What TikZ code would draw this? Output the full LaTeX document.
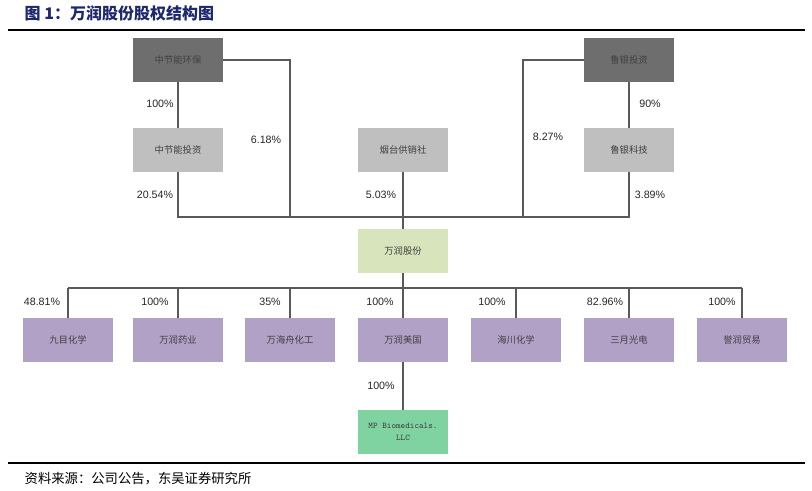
\documentclass[tikz,border=0pt]{standalone}
\usepackage{fontspec}
\setmainfont{Liberation Sans}
\newfontfamily\cjk{Noto Sans CJK SC}
\begin{document}
\begin{tikzpicture}[x=0.75pt,y=-0.75pt,
 box/.style={draw=none,minimum width=67.5pt,minimum height=33pt,inner sep=0pt,font=\cjk\fontsize{7}{8}\selectfont,text=black!75},
 dark/.style={box,fill=black!57},
 light/.style={box,fill=black!25},
 mid/.style={box,fill={rgb,255:red,216;green,228;blue,188}},
 sub/.style={box,fill={rgb,255:red,178;green,161;blue,199}},
 grn/.style={box,fill={rgb,255:red,127;green,211;blue,160},font=\ttfamily\fontsize{6.5}{9}\selectfont,align=center},
 ln/.style={draw=black!65,line width=0.9pt},
 pct/.style={font=\fontsize{8}{9}\selectfont,text=black!85,inner sep=1pt}]
\useasboundingbox (0,0) rectangle (812,491);
\node[anchor=west,font=\cjk\bfseries\fontsize{12}{14}\selectfont,text={rgb,255:red,30;green,40;blue,110}] (title) at (20,13) {图 1：万润股份股权结构图};
\coordinate (l1a) at (8,30); \coordinate (l1b) at (805,30);
\draw[line width=0.8pt] (l1a) -- (l1b);
\coordinate (l2a) at (8,463); \coordinate (l2b) at (805,463);
\draw[line width=0.8pt] (l2a) -- (l2b);
\node[anchor=west,font=\cjk\fontsize{10}{12}\selectfont] (src) at (20,479) {资料来源：公司公告，东吴证券研究所};
\node[dark] (a) at (178,60) {中节能环保};
\node[light] (b) at (178,150) {中节能投资};
\node[light] (c) at (403,150) {烟台供销社};
\node[dark] (d) at (629,60) {鲁银投资};
\node[light] (e) at (629,150) {鲁银科技};
\node[mid] (w) at (403,251) {万润股份};
\coordinate (j1) at (178,217); \coordinate (j2) at (290,217);
\coordinate (j3) at (403,217); \coordinate (j4) at (523,217); \coordinate (j5) at (629,217);
\coordinate (k1) at (290,60); \coordinate (k2) at (523,60);
\draw[ln] (a) -- (b); \draw[ln] (d) -- (e);
\draw[ln] (b) -- (j1) -- (j5) -- (e);
\draw[ln] (a.east) -- (k1) -- (j2);
\draw[ln] (d.west) -- (k2) -- (j4);
\draw[ln] (c) -- (w);
\node[pct] at (160,104) {100\%};
\node[pct] at (266,140) {6.18\%};
\node[pct] at (155,195) {20.54\%};
\node[pct] at (381,195) {5.03\%};
\node[pct] at (548,137) {8.27\%};
\node[pct] at (650,104) {90\%};
\node[pct] at (650,195) {3.89\%};
\coordinate (bus) at (403,288);
\foreach \n/\x/\t/\p/\px in {s1/68/九目化学/48.81/42, s2/178/万润药业/100/155, s3/290/万海舟化工/35/270, s4/403/万润美国/100/380, s5/516/海川化学/100/492, s6/629/三月光电/82.96/605, s7/742/誉润贸易/100/722}{
 \node[sub] (\n) at (\x,340) {\t};
 \coordinate (t\n) at (\x,288);
 \draw[ln] (t\n) -- (\n);
 \node[pct] at (\px,302) {\p\%};
}
\draw[ln] (ts1) -- (ts7);
\draw[ln] (w) -- (bus);
\node[grn] (mp) at (403,432) {MP Biomedicals.\\LLC};
\draw[ln] (s4) -- (mp);
\node[pct] at (381,386) {100\%};
\end{tikzpicture}
\end{document}
